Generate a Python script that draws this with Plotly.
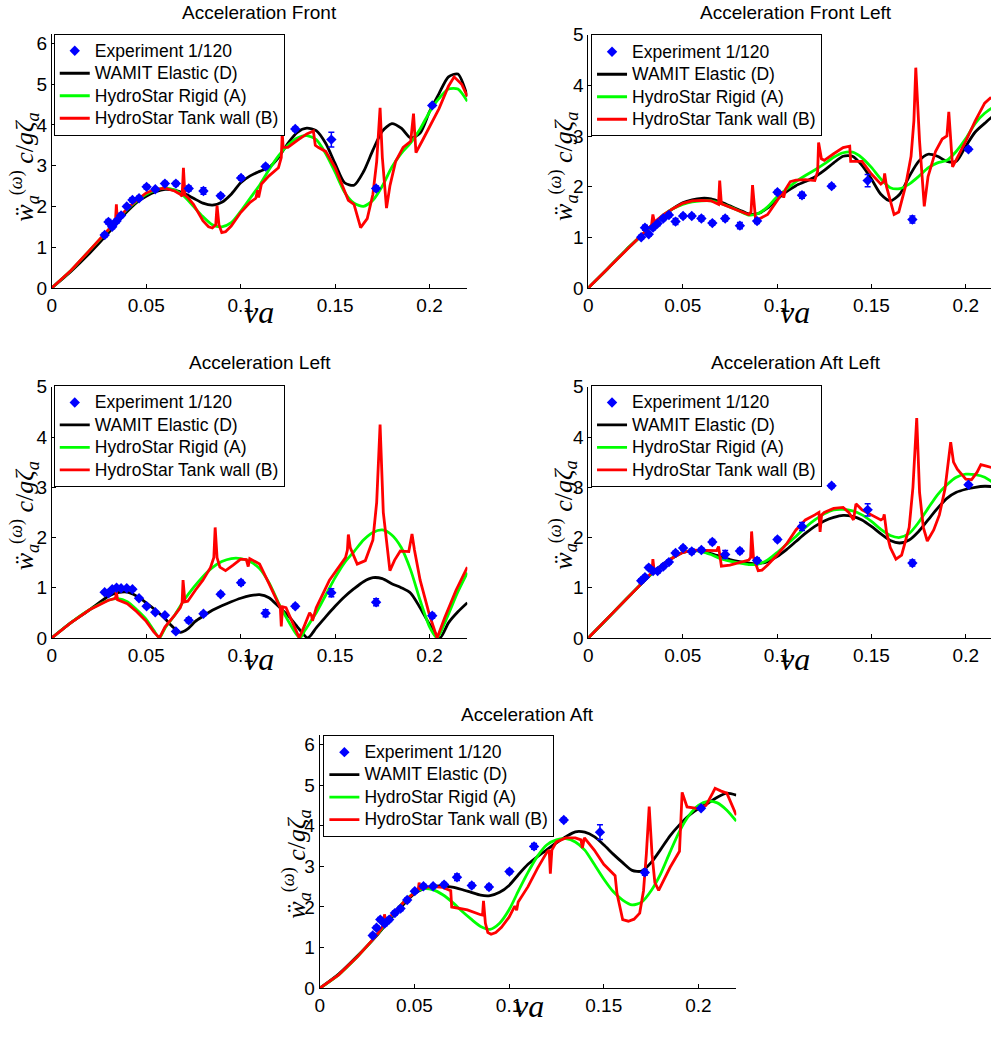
import plotly.graph_objects as go

# The page keeps the browser's default 8px body margin, so the figure is made
# 16px smaller than the window and every screen position is shifted by 8px.
SCREEN_W, SCREEN_H = 1007, 1044
OFF = 8
W, H = SCREEN_W - 2 * OFF, SCREEN_H - 2 * OFF
SANS = "Liberation Sans, Arial, sans-serif"
SERIF = "Liberation Serif, Times New Roman, serif"

# ---------------- data ----------------
EXP_NU = [0.028, 0.030, 0.032, 0.0343, 0.0367, 0.0397, 0.0427, 0.0462, 0.0502, 0.0548,
          0.0599, 0.0657, 0.0725, 0.0803, 0.0894, 0.1002, 0.1132, 0.1289, 0.148, 0.1717, 0.2014]

GRID = [0, 0.01, 0.02, 0.03, 0.035, 0.04, 0.045, 0.05, 0.055, 0.06, 0.065, 0.07, 0.075, 0.08,
        0.085, 0.09, 0.095, 0.1, 0.105, 0.11, 0.115, 0.12, 0.125, 0.13, 0.135, 0.14, 0.145,
        0.15, 0.155, 0.16, 0.165, 0.17, 0.175, 0.18, 0.185, 0.19, 0.195, 0.2, 0.205, 0.21,
        0.215, 0.22]

X_TICKS = [0, 0.05, 0.1, 0.15, 0.2]
X_TICK_TEXT = ["0", "0.05", "0.1", "0.15", "0.2"]

# Acceleration Front
FRONT_WAMIT = [0, 0.4, 0.85, 1.35, 1.62, 1.88, 2.1, 2.25, 2.36, 2.42, 2.4, 2.32, 2.2, 2.08, 2.03,
               2.1, 2.3, 2.58, 2.75, 2.86, 2.96, 3.2, 3.55, 3.82, 3.92, 3.86, 3.55, 3.05, 2.58,
               2.52, 2.85, 3.38, 3.85, 4.03, 3.92, 3.68, 3.8, 4.33, 4.77, 5.18, 5.25, 4.7]
FRONT_RIGID = [0, 0.42, 0.92, 1.42, 1.68, 1.93, 2.13, 2.3, 2.4, 2.45, 2.4, 2.25, 2.0, 1.75, 1.55,
               1.5, 1.6, 1.88, 2.2, 2.52, 2.9, 3.24, 3.5, 3.68, 3.74, 3.64, 3.3, 2.84, 2.35, 2.08,
               2.0, 2.15, 2.5, 2.96, 3.3, 3.56, 3.9, 4.32, 4.65, 4.88, 4.88, 4.58]
FRONT_TANK_NU = [0, 0.01, 0.02, 0.03, 0.033, 0.0337, 0.0342, 0.0347, 0.036, 0.04, 0.045, 0.05,
                 0.055, 0.06, 0.065, 0.068, 0.069, 0.0697, 0.0705, 0.072, 0.075, 0.08, 0.083,
                 0.085, 0.0868, 0.0875, 0.0885, 0.09, 0.092, 0.095, 0.1, 0.105, 0.108, 0.109,
                 0.1095, 0.111, 0.115, 0.12, 0.1215, 0.122, 0.1225, 0.125, 0.13, 0.135, 0.1385,
                 0.1395, 0.141, 0.145, 0.15, 0.155, 0.1557, 0.157, 0.16, 0.1635, 0.167, 0.17,
                 0.172, 0.1738, 0.175, 0.1772, 0.179, 0.182, 0.186, 0.19, 0.1915, 0.1928, 0.196,
                 0.2, 0.205, 0.21, 0.213, 0.217, 0.22]
FRONT_TANK = [0, 0.42, 0.92, 1.42, 1.58, 1.62, 2.05, 1.66, 1.75, 1.95, 2.15, 2.33,
              2.42, 2.45, 2.38, 2.3, 2.25, 2.95, 2.28, 2.22, 2.05, 1.65, 1.5,
              1.47, 1.55, 2.02, 1.55, 1.36, 1.38, 1.52, 1.85, 2.1, 2.2, 2.4,
              2.22, 2.55, 2.75, 2.95, 3.2, 3.8, 3.45, 3.45, 3.62, 3.78, 3.85,
              3.5, 3.45, 3.35, 2.95, 2.35, 2.3, 2.15, 2.05, 1.48, 1.7, 2.3,
              3.1, 4.42, 3.2, 1.96, 2.5, 3.1, 3.45, 3.6, 4.28, 3.32, 3.6,
              3.95, 4.4, 4.95, 5.18, 5.0, 4.7]
FRONT_EXP = [1.30, 1.62, 1.50, 1.64, 1.78, 2.0, 2.16, 2.2, 2.48, 2.42, 2.56, 2.56, 2.44, 2.38,
             2.26, 2.70, 2.98, 3.90, 3.64, 2.44, 4.48]
FRONT_ERR = [0.05, 0.06, 0.05, 0.05, 0.05, 0.04, 0.05, 0.05, 0.05, 0.04, 0.05, 0.05, 0.06, 0.08,
             0.05, 0.05, 0.05, 0.05, 0.18, 0.06, 0.04]

# Acceleration Front Left
FL_WAMIT = [0, 0.37, 0.75, 1.1, 1.28, 1.43, 1.57, 1.68, 1.74, 1.77, 1.76, 1.7, 1.62, 1.54, 1.46,
            1.47, 1.58, 1.75, 1.9, 2.02, 2.1, 2.19, 2.32, 2.47, 2.6, 2.6, 2.42, 2.15, 1.85, 1.72,
            1.85, 2.2, 2.5, 2.64, 2.6, 2.5, 2.5, 2.8, 3.08, 3.25, 3.4, 3.35]
FL_RIGID = [0, 0.37, 0.75, 1.1, 1.28, 1.45, 1.57, 1.65, 1.7, 1.72, 1.72, 1.67, 1.6, 1.52, 1.44,
            1.47, 1.6, 1.8, 1.95, 2.1, 2.22, 2.33, 2.45, 2.58, 2.67, 2.68, 2.57, 2.38, 2.15, 1.98,
            1.96, 2.05, 2.2, 2.37, 2.47, 2.52, 2.7, 2.95, 3.25, 3.45, 3.57, 3.5]
FL_TANK_NU = [0, 0.01, 0.02, 0.03, 0.0335, 0.0342, 0.035, 0.04, 0.045, 0.05, 0.055, 0.06, 0.065,
              0.069, 0.0696, 0.0705, 0.075, 0.08, 0.085, 0.0862, 0.087, 0.0885, 0.09, 0.095, 0.1,
              0.103, 0.1035, 0.1045, 0.107, 0.11, 0.115, 0.12, 0.1215, 0.122, 0.1235, 0.125,
              0.13, 0.135, 0.1385, 0.139, 0.142, 0.145, 0.15, 0.155, 0.1565, 0.157, 0.158, 0.16,
              0.162, 0.1645, 0.168, 0.171, 0.1725, 0.1735, 0.1755, 0.178, 0.18, 0.184, 0.1875,
              0.19, 0.191, 0.193, 0.196, 0.2, 0.205, 0.21, 0.213, 0.216, 0.22]
FL_TANK = [0, 0.37, 0.75, 1.1, 1.24, 1.45, 1.3, 1.45, 1.57, 1.67, 1.72, 1.73, 1.72,
           1.65, 2.12, 1.66, 1.6, 1.52, 1.45, 1.5, 2.03, 1.4, 1.35, 1.45, 1.72,
           1.9, 1.78, 1.95, 2.1, 2.13, 2.14, 2.12, 2.3, 2.87, 2.55, 2.52,
           2.65, 2.77, 2.8, 2.5, 2.5, 2.5, 2.25, 2.05, 2.1, 2.26, 2.0, 1.72,
           1.45, 1.5, 2.0, 2.6, 3.3, 4.35, 2.9, 1.61, 2.2, 2.7, 2.94,
           3.0, 3.48, 2.39, 2.6, 2.9, 3.3, 3.65, 3.75, 3.72, 3.6]
FL_EXP = [1.0, 1.19, 1.06, 1.19, 1.27, 1.37, 1.44, 1.31, 1.42, 1.42, 1.37, 1.28, 1.37, 1.23,
          1.32, 1.89, 1.83, 2.01, 2.12, 1.35, 2.74]
FL_ERR = [0.04, 0.05, 0.04, 0.04, 0.04, 0.04, 0.04, 0.06, 0.04, 0.04, 0.05, 0.04, 0.05, 0.06,
          0.05, 0.04, 0.06, 0.04, 0.12, 0.07, 0.04]

# Acceleration Left
LEFT_WAMIT_NU = [0, 0.01, 0.02, 0.03, 0.035, 0.04, 0.045, 0.05, 0.055, 0.06, 0.064, 0.068, 0.072,
                 0.076, 0.08, 0.085, 0.09, 0.095, 0.1, 0.105, 0.11, 0.115, 0.12, 0.125, 0.13,
                 0.1355, 0.14, 0.145, 0.15, 0.155, 0.16, 0.165, 0.17, 0.175, 0.18, 0.185, 0.19,
                 0.195, 0.2, 0.2055, 0.21, 0.215, 0.22]
LEFT_WAMIT = [0, 0.3, 0.56, 0.83, 0.9, 0.91, 0.83, 0.7, 0.55, 0.38, 0.22, 0.11, 0.18, 0.33,
              0.43, 0.55, 0.64, 0.72, 0.79, 0.84, 0.86, 0.8, 0.63, 0.45, 0.22, 0.0, 0.2, 0.42,
              0.63, 0.82, 0.98, 1.12, 1.2, 1.18, 1.08, 1.0, 0.89, 0.6, 0.27, 0.0, 0.3, 0.52, 0.7]
LEFT_RIGID_NU = [0, 0.01, 0.02, 0.03, 0.035, 0.04, 0.045, 0.05, 0.054, 0.057, 0.06, 0.065, 0.07,
                 0.075, 0.08, 0.085, 0.09, 0.095, 0.1, 0.105, 0.11, 0.115, 0.12, 0.125, 0.129,
                 0.1315, 0.134, 0.14, 0.145, 0.15, 0.155, 0.16, 0.165, 0.17, 0.175, 0.18, 0.185,
                 0.19, 0.195, 0.2, 0.204, 0.208, 0.215, 0.22]
LEFT_RIGID = [0, 0.3, 0.56, 0.75, 0.78, 0.72, 0.56, 0.37, 0.15, 0.0, 0.2, 0.45, 0.75, 1.0, 1.22,
              1.4, 1.52, 1.58, 1.58, 1.52, 1.38, 1.1, 0.7, 0.35, 0.1, 0.0, 0.15, 0.5, 0.85, 1.2,
              1.5, 1.72, 1.95, 2.1, 2.15, 2.05, 1.8, 1.35, 0.75, 0.22, 0.0, 0.3, 0.92, 1.3]
LEFT_TANK_NU = [0, 0.01, 0.02, 0.03, 0.033, 0.0338, 0.0342, 0.0348, 0.04, 0.045, 0.05, 0.054,
                0.057, 0.06, 0.065, 0.068, 0.069, 0.0695, 0.0705, 0.072, 0.076, 0.08, 0.084,
                0.0858, 0.0865, 0.0875, 0.089, 0.092, 0.096, 0.1, 0.103, 0.104, 0.1048, 0.108,
                0.11, 0.115, 0.12, 0.121, 0.1215, 0.1222, 0.124, 0.127, 0.131, 0.1335, 0.1365,
                0.1375, 0.138, 0.14, 0.147, 0.1555, 0.1565, 0.157, 0.158, 0.1617, 0.166, 0.17,
                0.172, 0.1738, 0.1755, 0.179, 0.1815, 0.1845, 0.189, 0.1907, 0.192, 0.195, 0.2,
                0.204, 0.208, 0.214, 0.22]
LEFT_TANK = [0, 0.3, 0.56, 0.75, 0.78, 0.8, 0.92, 0.76, 0.68, 0.52, 0.33, 0.12,
             0.0, 0.22, 0.45, 0.6, 0.7, 1.15, 0.72, 0.73, 0.95, 1.15, 1.4,
             1.6, 2.2, 1.6, 1.41, 1.34, 1.45, 1.57, 1.56, 1.42, 1.58, 1.52,
             1.47, 1.08, 0.69, 0.6, 0.23, 0.62, 0.6, 0.35, 0.0, 0.22, 0.5,
             0.45, 0.34, 0.6, 1.15, 1.6, 1.75, 2.06, 1.8, 1.47, 1.54, 1.95,
             2.7, 4.25, 2.5, 1.34, 1.55, 1.73, 1.72, 2.07, 1.75, 1.15, 0.45,
             0.0, 0.4, 0.95, 1.41]
LEFT_EXP = [0.91, 0.89, 0.97, 1.0, 0.99, 0.99, 0.97, 0.79, 0.63, 0.51, 0.45, 0.13, 0.35, 0.48,
            0.87, 1.10, 0.49, 0.63, 0.90, 0.71, 0.44]
LEFT_ERR = [0.03, 0.03, 0.03, 0.03, 0.03, 0.03, 0.03, 0.03, 0.03, 0.03, 0.03, 0.03, 0.05, 0.04,
            0.04, 0.05, 0.07, 0.04, 0.08, 0.07, 0.05]

# Acceleration Aft Left
AL_WAMIT = [0, 0.38, 0.77, 1.15, 1.33, 1.48, 1.6, 1.7, 1.74, 1.73, 1.68, 1.62, 1.56, 1.52, 1.49,
            1.48, 1.52, 1.62, 1.76, 1.92, 2.08, 2.22, 2.33, 2.4, 2.44, 2.42, 2.35, 2.22, 2.07,
            1.94, 1.89, 1.95, 2.12, 2.35, 2.58, 2.78, 2.9, 2.96, 3.0, 3.02, 3.01, 2.98]
AL_RIGID = [0, 0.38, 0.77, 1.15, 1.33, 1.48, 1.6, 1.7, 1.74, 1.72, 1.66, 1.58, 1.53, 1.49, 1.46,
            1.47, 1.55, 1.7, 1.86, 2.02, 2.2, 2.35, 2.47, 2.55, 2.56, 2.53, 2.45, 2.32, 2.16,
            2.04, 2.0, 2.08, 2.3, 2.58, 2.85, 3.05, 3.2, 3.26, 3.25, 3.2, 3.08, 2.98]
AL_TANK_NU = [0, 0.01, 0.02, 0.03, 0.033, 0.0338, 0.0342, 0.0348, 0.037, 0.04, 0.045, 0.05,
              0.055, 0.06, 0.065, 0.068, 0.069, 0.0698, 0.0705, 0.075, 0.08, 0.085, 0.086,
              0.0865, 0.0875, 0.09, 0.092, 0.095, 0.1, 0.105, 0.11, 0.115, 0.12, 0.1222, 0.1228,
              0.1236, 0.125, 0.13, 0.135, 0.138, 0.1405, 0.1412, 0.1418, 0.145, 0.15, 0.155,
              0.1563, 0.1568, 0.158, 0.16, 0.163, 0.166, 0.17, 0.172, 0.174, 0.1755, 0.1775,
              0.1796, 0.183, 0.186, 0.189, 0.1912, 0.192, 0.1935, 0.1955, 0.2, 0.203, 0.206,
              0.208, 0.211, 0.214, 0.22]
AL_TANK = [0, 0.38, 0.77, 1.15, 1.28, 1.32, 1.57, 1.36, 1.38, 1.48, 1.6, 1.7,
           1.75, 1.75, 1.75, 1.74, 1.82, 1.6, 1.43, 1.45, 1.5, 1.55, 1.6,
           2.12, 1.6, 1.34, 1.35, 1.45, 1.65, 1.87, 2.15, 2.35, 2.45, 2.5, 2.11,
           2.45, 2.5, 2.58, 2.6, 2.5, 2.35, 2.5, 2.67, 2.55, 2.45, 2.35,
           2.38, 2.46, 2.1, 1.8, 1.57, 1.65, 2.2, 3.0, 4.38, 2.9, 2.2,
           1.93, 2.15, 2.45, 2.97, 3.6, 3.9, 3.5, 3.36, 3.16, 3.15, 3.3,
           3.45, 3.42, 3.39, 3.15]
AL_EXP = [1.14, 1.21, 1.40, 1.33, 1.33, 1.42, 1.51, 1.69, 1.79, 1.72, 1.75, 1.91, 1.66, 1.73,
          1.54, 1.96, 2.22, 3.03, 2.55, 1.49, 3.05]
AL_ERR = [0.04, 0.04, 0.04, 0.04, 0.04, 0.04, 0.04, 0.04, 0.04, 0.05, 0.04, 0.05, 0.08, 0.05,
          0.05, 0.04, 0.08, 0.04, 0.12, 0.06, 0.03]

# Acceleration Aft
AFT_WAMIT = [0, 0.35, 0.8, 1.29, 1.57, 1.85, 2.1, 2.33, 2.45, 2.51, 2.52, 2.49, 2.43, 2.36, 2.29,
             2.28, 2.36, 2.53, 2.8, 3.05, 3.24, 3.41, 3.58, 3.73, 3.85, 3.84, 3.73, 3.53, 3.3,
             3.09, 2.9, 2.88, 3.09, 3.41, 3.75, 4.02, 4.25, 4.42, 4.55, 4.7, 4.8, 4.75]
AFT_RIGID = [0, 0.33, 0.78, 1.3, 1.6, 1.9, 2.15, 2.35, 2.45, 2.42, 2.3, 2.12, 1.9, 1.7, 1.52,
             1.45, 1.6, 1.93, 2.4, 2.85, 3.25, 3.53, 3.65, 3.68, 3.6, 3.4, 3.05, 2.69, 2.38,
             2.17, 2.05, 2.12, 2.4, 2.81, 3.35, 3.86, 4.25, 4.5, 4.6, 4.56, 4.38, 4.11]
AFT_TANK_NU = [0, 0.01, 0.02, 0.03, 0.033, 0.0338, 0.0342, 0.0348, 0.037, 0.04, 0.045, 0.05,
               0.052, 0.0525, 0.053, 0.055, 0.06, 0.065, 0.0685, 0.0692, 0.0697, 0.072, 0.078,
               0.085, 0.086, 0.0865, 0.0875, 0.0888, 0.0905, 0.093, 0.096, 0.1, 0.103, 0.104,
               0.1048, 0.11, 0.115, 0.12, 0.1212, 0.1218, 0.1226, 0.125, 0.13, 0.135, 0.138,
               0.1387, 0.1398, 0.145, 0.15, 0.156, 0.157, 0.16, 0.163, 0.166, 0.169, 0.171,
               0.1725, 0.174, 0.1755, 0.177, 0.179, 0.185, 0.19, 0.1914, 0.194, 0.2, 0.204,
               0.2075, 0.2088, 0.212, 0.215, 0.22]
AFT_TANK = [0, 0.33, 0.78, 1.3, 1.5, 1.6, 1.82, 1.65, 1.75, 1.9, 2.15, 2.35,
            2.42, 2.6, 2.45, 2.48, 2.5, 2.48, 2.42, 2.4, 2.0, 1.98, 1.93,
            1.81, 1.8, 2.15, 1.6, 1.37, 1.33, 1.37, 1.5, 1.75, 2.02, 1.92,
            2.12, 2.5, 2.95, 3.35, 3.4, 2.82, 3.4, 3.6, 3.7, 3.7, 3.65,
            3.45, 3.7, 3.4, 3.05, 2.77, 2.33, 1.69, 1.65, 1.7, 1.85, 2.4,
            3.3, 4.47, 3.3, 2.6, 2.41, 2.97, 3.37, 4.82, 4.46, 4.42, 4.5,
            4.8, 4.92, 4.85, 4.8, 4.26]
AFT_EXP = [1.30, 1.49, 1.69, 1.59, 1.69, 1.85, 1.96, 2.17, 2.39, 2.51, 2.51, 2.55, 2.73, 2.53,
           2.49, 2.87, 3.49, 4.14, 3.84, 2.85, 4.43]
AFT_ERR = [0.05, 0.05, 0.05, 0.05, 0.05, 0.05, 0.05, 0.05, 0.04, 0.05, 0.04, 0.05, 0.08, 0.06,
           0.06, 0.05, 0.07, 0.05, 0.18, 0.07, 0.04]

TITLES = ["Acceleration Front", "Acceleration Front Left", "Acceleration Left",
          "Acceleration Aft Left", "Acceleration Aft"]
NAMES = ["Experiment 1/120", "WAMIT Elastic (D)", "HydroStar Rigid (A)", "HydroStar Tank wall (B)"]


# ---------------- helpers (screen pixels -> paper fractions) ----------------
def fx(p):
    return (p - OFF) / W


def fy(p):
    return 1 - (p - OFF) / H


def leg_name(s):
    return '<span style="font-size:17.5px">' + s + '</span>'


RIGHT_EDGE = OFF + W  # last screen pixel column the figure covers
X_CUT = 0.22 * (RIGHT_EDGE - 594.3) / (1011.6 - 594.3)

panels = [
    dict(title=TITLES[0], wx=GRID, wy=FRONT_WAMIT, gx=GRID, gy=FRONT_RIGID,
         rx=FRONT_TANK_NU, ry=FRONT_TANK, ey=FRONT_EXP, ee=FRONT_ERR,
         xpx=(55, 472.7), ypx=(33, 291.7), yr=6.22, xr=0.22, yt=6, tx=264, ty=11,
         leg=(57, 32), ylab=(27, 168), xlab=(263, 316)),
    dict(title=TITLES[1], wx=GRID, wy=FL_WAMIT, gx=GRID, gy=FL_RIGID,
         rx=FL_TANK_NU, ry=FL_TANK, ey=FL_EXP, ee=FL_ERR,
         xpx=(594.3, RIGHT_EDGE), ypx=(33.3, 291.7), yr=5, xr=X_CUT, yt=5, tx=803, ty=11,
         leg=(597, 33), ylab=(569, 168), xlab=(802, 316)),
    dict(title=TITLES[2], wx=LEFT_WAMIT_NU, wy=LEFT_WAMIT, gx=LEFT_RIGID_NU, gy=LEFT_RIGID,
         rx=LEFT_TANK_NU, ry=LEFT_TANK, ey=LEFT_EXP, ee=LEFT_ERR,
         xpx=(55, 472.7), ypx=(392.7, 649), yr=5, xr=0.22, yt=5, tx=264, ty=368,
         leg=(57, 391), ylab=(28, 524), xlab=(263, 671)),
    dict(title=TITLES[3], wx=GRID, wy=AL_WAMIT, gx=GRID, gy=AL_RIGID,
         rx=AL_TANK_NU, ry=AL_TANK, ey=AL_EXP, ee=AL_ERR,
         xpx=(594.3, RIGHT_EDGE), ypx=(392.7, 649), yr=5, xr=X_CUT, yt=5, tx=803, ty=368,
         leg=(597, 391), ylab=(569, 524), xlab=(802, 671)),
    dict(title=TITLES[4], wx=GRID, wy=AFT_WAMIT, gx=GRID, gy=AFT_RIGID,
         rx=AFT_TANK_NU, ry=AFT_TANK, ey=AFT_EXP, ee=AFT_ERR,
         xpx=(324.3, 743), ypx=(747.7, 1006.7), yr=6.24, xr=0.22, yt=6, tx=533.5, ty=727,
         leg=(328, 748), ylab=(301, 880), xlab=(535, 1025)),
]

fig = go.Figure()
layout = dict(width=W, height=H, margin=dict(l=0, r=0, t=0, b=0),
              paper_bgcolor="white", plot_bgcolor="white", showlegend=True,
              annotations=[])

YLABEL = ("<i>ẅ</i><sub><i>a</i></sub><sup>(<i>ω</i>)</sup>"
          "<i> c</i>/<i>gζ</i><sub><i>a</i></sub>")

for i, p in enumerate(panels, start=1):
    sx = "" if i == 1 else str(i)
    xa, ya = "x" + sx, "y" + sx
    lg = "legend" + sx
    common = dict(xaxis=xa, yaxis=ya, legend=lg)
    fig.add_trace(go.Scatter(x=p["wx"], y=p["wy"], mode="lines", name=leg_name(NAMES[1]),
                             legendrank=2,
                             line=dict(color="#000000", width=2.8, shape="spline", smoothing=0.7),
                             **common))
    fig.add_trace(go.Scatter(x=p["gx"], y=p["gy"], mode="lines", name=leg_name(NAMES[2]),
                             legendrank=3,
                             line=dict(color="#00FF00", width=2.8, shape="spline", smoothing=0.7),
                             **common))
    fig.add_trace(go.Scatter(x=p["rx"], y=p["ry"], mode="lines", name=leg_name(NAMES[3]),
                             legendrank=4, line=dict(color="#FF0000", width=2.8), **common))
    fig.add_trace(go.Scatter(x=EXP_NU, y=p["ey"], mode="markers", name=leg_name(NAMES[0]),
                             legendrank=1,
                             marker=dict(symbol="diamond", size=8, color="#0000FF"),
                             error_y=dict(type="data", array=p["ee"], color="#0000FF",
                                          thickness=1.5, width=3),
                             **common))

    axis_common = dict(showline=True, linecolor="black", linewidth=1, mirror=False,
                       ticks="inside", ticklen=4, tickcolor="black", showgrid=False,
                       zeroline=False, tickfont=dict(family=SANS, size=19, color="black"))
    layout["xaxis" + sx] = dict(domain=[fx(p["xpx"][0]), min(1.0, fx(p["xpx"][1]))],
                                range=[0, p["xr"]], anchor=ya, tickvals=X_TICKS,
                                ticktext=X_TICK_TEXT, **axis_common)
    layout["yaxis" + sx] = dict(domain=[fy(p["ypx"][1]), fy(p["ypx"][0])], range=[0, p["yr"]],
                                anchor=xa, tickvals=list(range(0, p["yt"] + 1)), **axis_common)
    layout[lg] = dict(x=fx(p["leg"][0]), y=fy(p["leg"][1]), xanchor="left", yanchor="top",
                      bgcolor="white", bordercolor="black", borderwidth=1,
                      font=dict(family=SANS, size=15, color="black"),
                      itemwidth=30, tracegroupgap=0, traceorder="normal")
    layout["annotations"].append(dict(text=p["title"], xref="paper", yref="paper",
                                      x=fx(p["tx"]), y=fy(p["ty"]), xanchor="center",
                                      yanchor="middle", showarrow=False,
                                      font=dict(family=SANS, size=19, color="black")))
    layout["annotations"].append(dict(text=YLABEL, xref="paper", yref="paper",
                                      x=fx(p["ylab"][0]), y=fy(p["ylab"][1]), xanchor="center",
                                      yanchor="middle", textangle=-90, showarrow=False,
                                      font=dict(family=SERIF, size=26, color="black")))
    layout["annotations"].append(dict(text="<i>νa</i>", xref="paper", yref="paper",
                                      x=fx(p["xlab"][0]), y=fy(p["xlab"][1]), xanchor="center",
                                      yanchor="middle", showarrow=False,
                                      font=dict(family=SERIF, size=32, color="black")))

fig.update_layout(**layout)
fig.write_html("out.html")
